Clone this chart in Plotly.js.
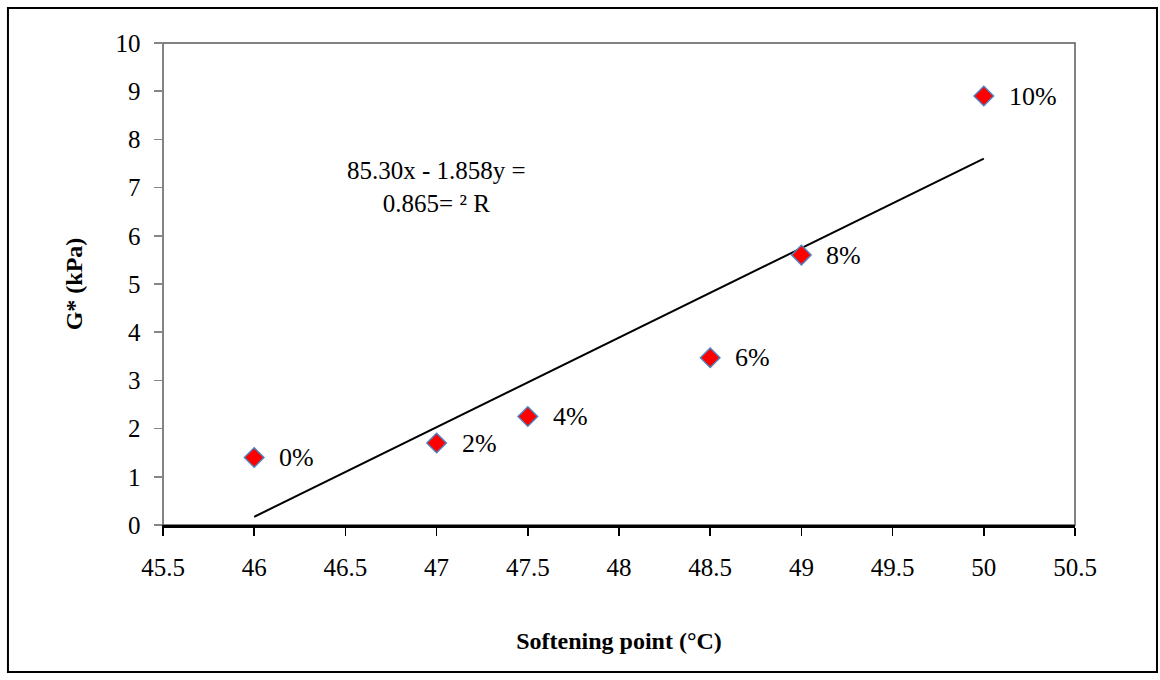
<!DOCTYPE html>
<html>
<head>
<meta charset="utf-8">
<script src="https://cdn.plot.ly/plotly-3.0.1.min.js"></script>
<style>html,body{margin:0;padding:0;background:#fff;}#chart{width:1160px;height:680px;}</style>
</head>
<body>
<div id="chart"></div>
<script>
const softening = [46, 47, 47.5, 48.5, 49, 50];
const gstar = [1.4, 1.7, 2.25, 3.47, 5.6, 8.9];
const labels = ['0%', '2%', '4%', '6%', '8%', '10%'];
const equationText = '85.30x - 1.858y =<br>0.865= ² R';
const xTicks = [45.5, 46, 46.5, 47, 47.5, 48, 48.5, 49, 49.5, 50, 50.5];
const yTicks = [0, 1, 2, 3, 4, 5, 6, 7, 8, 9, 10];

// linear regression from the data
const n = softening.length;
const mx = softening.reduce((a, b) => a + b, 0) / n;
const my = gstar.reduce((a, b) => a + b, 0) / n;
let sxy = 0, sxx = 0;
for (let i = 0; i < n; i++) { sxy += (softening[i] - mx) * (gstar[i] - my); sxx += (softening[i] - mx) ** 2; }
const slope = sxy / sxx, intercept = my - slope * mx;
const xmin = Math.min(...softening), xmax = Math.max(...softening);
const trendX = [xmin, xmax];
const trendY = trendX.map(x => slope * x + intercept);

const font = '"Liberation Serif", "Times New Roman", serif';

const traces = [
  {x: trendX, y: trendY, mode: 'lines', line: {color: '#000', width: 2}, hoverinfo: 'skip', showlegend: false},
  {x: softening, y: gstar, mode: 'markers', showlegend: false,
   marker: {symbol: 'diamond', size: 15, color: '#FF0000', line: {color: '#4F81BD', width: 1.5}}}
];

const annotations = softening.map((x, i) => ({
  x: x, y: gstar[i], xref: 'x', yref: 'y', text: labels[i], showarrow: false,
  xanchor: 'left', yanchor: 'middle', xshift: 23, font: {family: font, size: 26, color: '#000'}
}));
annotations.push({x: 47, y: 7.02, xref: 'x', yref: 'y', text: equationText, showarrow: false,
  xanchor: 'center', yanchor: 'middle', font: {family: font, size: 25, color: '#000'}});

const layout = {
  width: 1160, height: 680,
  margin: {l: 163, r: 85, t: 43, b: 155},
  paper_bgcolor: '#fff', plot_bgcolor: '#fff',
  font: {family: font, size: 24, color: '#000'},
  showlegend: false,
  xaxis: {range: [45.5, 50.5], tickvals: xTicks, ticktext: xTicks.map(String), ticks: 'outside', ticklen: 8,
    tickcolor: '#000', tickwidth: 1.5, showline: true, linecolor: '#000', linewidth: 2.5, showgrid: false, zeroline: false,
    ticklabelstandoff: 10, tickfont: {family: font, size: 25},
    title: {text: '<b>Softening point (°C)</b>', font: {family: font, size: 24}, standoff: 53}},
  yaxis: {range: [0, 10], tickvals: yTicks, ticktext: yTicks.map(String), ticks: 'outside', ticklen: 8,
    tickcolor: '#868686', tickwidth: 1.5, showline: true, linecolor: '#868686', linewidth: 1.5, showgrid: false, zeroline: false,
    ticklabelstandoff: 8, tickfont: {family: font, size: 25},
    title: {text: '<b>G* (kPa)</b>', font: {family: font, size: 24}, standoff: 26}},
  shapes: [
    {type: 'rect', xref: 'paper', yref: 'paper', x0: 0, x1: 1, y0: 0, y1: 1, line: {color: '#595959', width: 1.5}, layer: 'below'},
    {type: 'rect', xref: 'paper', yref: 'paper', x0: -0.17, x1: 1.0899, y0: -0.305, y1: 1.0726, line: {color: '#000', width: 2}, layer: 'below'}
  ],
  annotations: annotations
};

Plotly.newPlot('chart', traces, layout, {displayModeBar: false, staticPlot: true});
</script>
</body>
</html>
